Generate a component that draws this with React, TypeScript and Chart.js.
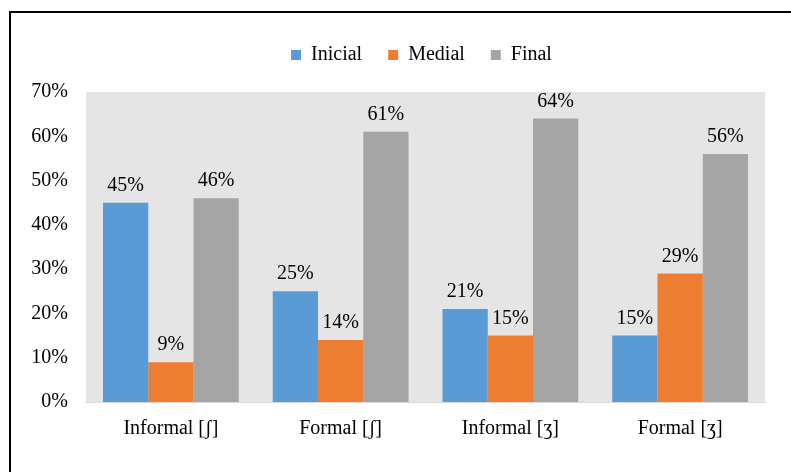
import { useEffect, useRef } from "react";
import { Chart, registerables } from "chart.js";

Chart.register(...registerables);

// Category labels along the x axis
const categories = ["Informal [ʃ]", "Formal [ʃ]", "Informal [ʒ]", "Formal [ʒ]"];

// Share of occurrences by position (percent)
const inicialValues = [45, 25, 21, 15];
const medialValues = [9, 14, 15, 29];
const finalValues = [46, 61, 64, 56];

// Y axis range (percent)
const yMin = 0;
const yMax = 70;
const yStep = 10;

const FONT_FAMILY = "'Liberation Serif', 'Times New Roman', serif";
const FONT_SIZE = 20;
const TEXT_COLOR = "#000000";

// Fills the plot area with a light grey background
const plotBackground = {
  id: "plotBackground",
  beforeDraw(chart: any) {
    const { ctx, chartArea } = chart;
    if (!chartArea) return;
    ctx.save();
    ctx.fillStyle = "#E5E5E5";
    ctx.fillRect(
      chartArea.left,
      chartArea.top,
      chartArea.right - chartArea.left,
      chartArea.bottom - chartArea.top
    );
    ctx.restore();
  },
};

// Writes each bar's value above it
const valueLabels = {
  id: "valueLabels",
  afterDatasetsDraw(chart: any) {
    const { ctx } = chart;
    ctx.save();
    ctx.font = `${FONT_SIZE}px ${FONT_FAMILY}`;
    ctx.fillStyle = TEXT_COLOR;
    ctx.textAlign = "center";
    ctx.textBaseline = "alphabetic";
    chart.data.datasets.forEach((ds: any, i: number) => {
      const meta = chart.getDatasetMeta(i);
      if (meta.hidden) return;
      meta.data.forEach((el: any, j: number) => {
        ctx.fillText(`${ds.data[j]}%`, el.x, el.y - 12);
      });
    });
    ctx.restore();
  },
};

// Leaves extra room below the legend and centres it over the whole frame
const LEGEND_GAP = 17;
const LEGEND_SHIFT = 58;
const legendPlacement = {
  id: "legendPlacement",
  beforeLayout(chart: any) {
    const lg = chart.legend;
    if (lg && !lg.__spaced) {
      const fit = lg.fit;
      lg.fit = function () {
        fit.call(this);
        this.height += LEGEND_GAP;
      };
      lg.__spaced = true;
    }
  },
  afterLayout(chart: any) {
    const lg = chart.legend;
    if (lg) lg.left += LEGEND_SHIFT;
  },
};

export default function App() {
  const canvasRef = useRef<HTMLCanvasElement | null>(null);

  useEffect(() => {
    if (!canvasRef.current) return;
    const font = { family: FONT_FAMILY, size: FONT_SIZE };
    const chart = new Chart(canvasRef.current, {
      type: "bar",
      data: {
        labels: categories,
        datasets: [
          { label: "Inicial", data: inicialValues, backgroundColor: "#5B9BD5" },
          { label: "Medial", data: medialValues, backgroundColor: "#ED7D31" },
          { label: "Final", data: finalValues, backgroundColor: "#A5A5A5" },
        ],
      },
      options: {
        responsive: false,
        animation: false,
        layout: { padding: { top: 19, right: 26, bottom: 16, left: 20 } },
        datasets: {
          bar: { categoryPercentage: 0.8, barPercentage: 1 },
        },
        plugins: {
          legend: {
            position: "top",
            align: "center",
            labels: {
              boxWidth: 10,
              boxHeight: 10,
              padding: 26,
              color: TEXT_COLOR,
              font,
            },
          },
          tooltip: { enabled: false },
        },
        scales: {
          x: {
            grid: { display: false, drawTicks: false },
            border: { display: true, color: "#D9D9D9", width: 1 },
            ticks: { color: TEXT_COLOR, font, padding: 15 },
          },
          y: {
            min: yMin,
            max: yMax,
            grid: { display: false, drawTicks: false },
            border: { display: false },
            ticks: {
              stepSize: yStep,
              color: TEXT_COLOR,
              font,
              padding: 18,
              callback: (v: any) => `${v}%`,
            },
            afterFit(scale: any) {
              scale.width = 66;
            },
          },
        },
      },
      plugins: [plotBackground, valueLabels, legendPlacement],
    });
    return () => chart.destroy();
  }, []);

  return (
    <>
      <div
        style={{
          position: "absolute",
          left: 9,
          top: 11,
          width: 782,
          height: 461,
          borderTop: "2px solid #000",
          borderLeft: "2px solid #000",
          boxSizing: "border-box",
        }}
      />
      <canvas
        ref={canvasRef}
        width={791}
        height={472}
        style={{ position: "absolute", left: 0, top: 0 }}
      />
    </>
  );
}
